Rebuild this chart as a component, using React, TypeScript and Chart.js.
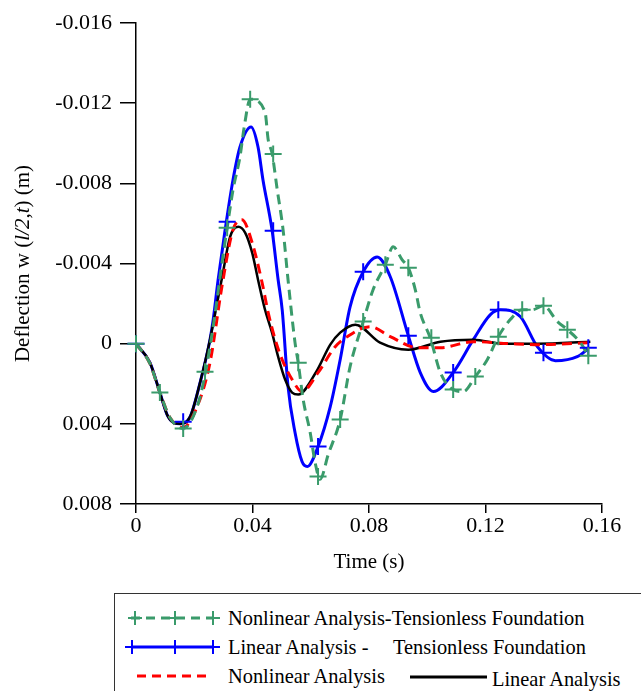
import React, { useEffect, useRef } from 'react';
import { Chart, registerables } from 'chart.js';

Chart.register(...registerables);

const FONT = '"Liberation Serif", "Times New Roman", Times, serif';

// X axis / Y axis tick values
const xTicks = [0, 0.04, 0.08, 0.12, 0.16];
const yTicks = [-0.016, -0.012, -0.008, -0.004, 0, 0.004, 0.008];

// Linear Analysis (black)
const timeLinear = [0, 0.0048, 0.0082, 0.011, 0.0151, 0.0186, 0.022, 0.0254, 0.0296, 0.0323, 0.0351, 0.0375, 0.0399, 0.0419, 0.0443, 0.0467, 0.0488, 0.0512, 0.0536, 0.0557, 0.0619, 0.0667, 0.0701, 0.0753, 0.0838, 0.0935, 0.1045, 0.1158, 0.1261, 0.1378, 0.156];
const linear = [0, 0.00095, 0.00244, 0.00364, 0.00399, 0.00364, 0.00194, -0.0002, -0.00334, -0.00533, -0.00583, -0.00553, -0.00453, -0.00319, -0.00169, -0.00055, 0.00065, 0.00179, 0.00244, 0.00254, 0.0014, 0.00005, -0.00055, -0.00095, -0.00005, 0.0003, -0.0001, -0.0002, 0, 0, -0.0001];

// Nonlinear Analysis (red dashed)
const timeNonlinear = [0, 0.0048, 0.0082, 0.0117, 0.0162, 0.021, 0.0254, 0.0296, 0.0333, 0.0364, 0.0399, 0.0433, 0.0454, 0.0478, 0.0502, 0.0536, 0.057, 0.0625, 0.0684, 0.0725, 0.0804, 0.0873, 0.0966, 0.1045, 0.1158, 0.1285, 0.1388, 0.156];
const nonlinear = [0, 0.001, 0.00244, 0.0037, 0.00418, 0.00314, 0.00095, -0.00294, -0.00568, -0.00618, -0.00503, -0.00304, -0.00154, -0.0002, 0.0008, 0.00179, 0.00239, 0.00145, 0.00015, -0.00035, -0.00085, -0.00035, 0.0002, 0.0002, -0.0001, 0, 0.00005, -0.00005];

// Linear Analysis - Tensionless Foundation (blue)
const timeLinearTL = [0, 0.0048, 0.0082, 0.011, 0.0151, 0.0186, 0.022, 0.0254, 0.0265, 0.0282, 0.0306, 0.0333, 0.0357, 0.0395, 0.0419, 0.0436, 0.0467, 0.0488, 0.0502, 0.0522, 0.0546, 0.057, 0.0588, 0.0625, 0.0667, 0.0701, 0.0735, 0.078, 0.0828, 0.0873, 0.0935, 0.0976, 0.1021, 0.1089, 0.1158, 0.1216, 0.1251, 0.132, 0.1378, 0.144, 0.1515, 0.1553];
const linearTL = [0, 0.00095, 0.00244, 0.00364, 0.00399, 0.00364, 0.00194, -0.0002, -0.0012, -0.00319, -0.00568, -0.00817, -0.00981, -0.01081, -0.00981, -0.00817, -0.00568, -0.00319, -0.00169, 0.00214, 0.00443, 0.00588, 0.00613, 0.00513, 0.00314, 0.0008, -0.00184, -0.00359, -0.00433, -0.00334, -0.0004, 0.00144, 0.00239, 0.00144, -0.0002, -0.00144, -0.00169, -0.00134, 0.00015, 0.00085, 0.00065, 0.00025];
const markerTimeLinearTL = [0, 0.0162, 0.0313, 0.0471, 0.0625, 0.078, 0.0935, 0.1089, 0.1244, 0.1399, 0.1553];
const markerLinearTL = [0, 0.0039, -0.00608, -0.00563, 0.00513, -0.00359, -0.0004, 0.00144, -0.00169, 0.00045, 0.0002];

// Nonlinear Analysis - Tensionless Foundation (green dashed)
const timeNonlinearTL = [0, 0.0048, 0.0082, 0.0117, 0.0162, 0.021, 0.0237, 0.0271, 0.0292, 0.0313, 0.0333, 0.0357, 0.0371, 0.0392, 0.0443, 0.0454, 0.0467, 0.0485, 0.0505, 0.0522, 0.0546, 0.0557, 0.0574, 0.0598, 0.0615, 0.0632, 0.066, 0.0701, 0.0735, 0.078, 0.0814, 0.0856, 0.0883, 0.0914, 0.0935, 0.0959, 0.0976, 0.101, 0.1045, 0.1089, 0.1124, 0.1165, 0.1206, 0.1244, 0.1285, 0.1326, 0.1361, 0.1399, 0.1447, 0.1481, 0.1526, 0.1553];
const nonlinearTL = [0, 0.001, 0.00244, 0.0037, 0.00423, 0.00314, 0.00154, -0.00144, -0.00369, -0.00578, -0.00767, -0.00932, -0.01076, -0.0122, -0.01156, -0.01016, -0.00951, -0.00767, -0.00568, -0.00319, -0.00005, 0.00095, 0.00279, 0.00443, 0.00593, 0.00677, 0.00553, 0.00379, 0.00115, -0.0011, -0.00269, -0.00394, -0.00483, -0.00418, -0.00379, -0.00269, -0.00154, -0.0003, 0.00144, 0.00229, 0.00239, 0.00164, 0.0008, -0.00035, -0.0012, -0.00169, -0.00169, -0.00189, -0.0011, -0.0007, -0.00005, 0.0006];
const markerTimeNonlinearTL = [0, 0.0082, 0.0162, 0.0237, 0.0313, 0.0392, 0.0471, 0.0557, 0.0625, 0.0701, 0.078, 0.0856, 0.0935, 0.1014, 0.1089, 0.1165, 0.1244, 0.1326, 0.1399, 0.1481, 0.1553];
const markerNonlinearTL = [0, 0.00244, 0.00423, 0.0014, -0.00578, -0.0122, -0.00946, 0.00095, 0.00663, 0.00379, -0.0011, -0.00394, -0.00379, -0.0003, 0.00229, 0.00164, -0.00035, -0.00169, -0.00189, -0.0007, 0.0006];

const GREEN = '#3A9B6B';
const BLUE = '#0000FF';
const RED = '#FF0000';
const BLACK = '#000000';

const pts = (xs: number[], ys: number[]) => xs.map((x, i) => ({ x, y: ys[i] }));

const yTitlePlugin = {
  id: 'yTitle',
  afterDraw(chart: any) {
    const { ctx, chartArea } = chart;
    const size = 21;
    const parts: [string, boolean][] = [
      ['Deflection w (', false],
      ['l/2,t', true],
      [') (m)', false],
    ];
    ctx.save();
    const fontFor = (it: boolean) => `${it ? 'italic ' : ''}${size}px ${FONT}`;
    const widths = parts.map(([t, it]) => {
      ctx.font = fontFor(it);
      return ctx.measureText(t).width;
    });
    const total = widths.reduce((a, b) => a + b, 0);
    ctx.translate(23, (chartArea.top + chartArea.bottom) / 2);
    ctx.rotate(-Math.PI / 2);
    ctx.textBaseline = 'middle';
    ctx.textAlign = 'left';
    ctx.fillStyle = '#000';
    let x = -total / 2;
    parts.forEach(([t, it], i) => {
      ctx.font = fontFor(it);
      ctx.fillText(t, x, 0);
      x += widths[i];
    });
    ctx.restore();
  },
};

export default function App() {
  const ref = useRef<HTMLCanvasElement>(null);

  useEffect(() => {
    const lineBase = {
      pointRadius: 0,
      fill: false,
      cubicInterpolationMode: 'monotone' as const,
      borderWidth: 3,
    };
    const markerBase = {
      showLine: false,
      pointStyle: 'cross' as const,
      pointRadius: 8.5,
      pointBorderWidth: 2,
      clip: false as any,
    };
    const chart = new Chart(ref.current as HTMLCanvasElement, {
      type: 'line',
      data: {
        datasets: [
          { ...markerBase, label: 'NLT markers', data: pts(markerTimeNonlinearTL, markerNonlinearTL), borderColor: GREEN, pointBorderColor: GREEN, backgroundColor: GREEN, order: 0 },
          { ...markerBase, label: 'LT markers', data: pts(markerTimeLinearTL, markerLinearTL), borderColor: BLUE, pointBorderColor: BLUE, backgroundColor: BLUE, order: 1 },
          { ...lineBase, label: 'Nonlinear Analysis-Tensionless Foundation', data: pts(timeNonlinearTL, nonlinearTL), borderColor: GREEN, borderDash: [10, 6], order: 2 },
          { ...lineBase, label: 'Nonlinear Analysis', data: pts(timeNonlinear, nonlinear), borderColor: RED, borderDash: [10, 6], order: 3 },
          { ...lineBase, label: 'Linear Analysis', data: pts(timeLinear, linear), borderColor: BLACK, borderWidth: 2.5, order: 4 },
          { ...lineBase, label: 'Linear Analysis - Tensionless Foundation', data: pts(timeLinearTL, linearTL), borderColor: BLUE, order: 5 },
        ],
      },
      options: {
        responsive: false,
        devicePixelRatio: 1,
        animation: false,
        events: [],
        layout: { padding: { left: 0, right: 39, top: 23, bottom: 0 } },
        plugins: { legend: { display: false }, tooltip: { enabled: false } },
        scales: {
          x: {
            type: 'linear',
            min: 0,
            max: 0.16,
            afterBuildTicks: (axis: any) => {
              axis.ticks = xTicks.map((v) => ({ value: v }));
            },
            afterFit: (scale: any) => {
              scale.height = 86;
            },
            ticks: {
              autoSkip: false,
              maxRotation: 0,
              padding: 0,
              color: '#000',
              font: { family: FONT, size: 22 },
              callback: (v: any) => String(v),
            },
            grid: { display: true, drawOnChartArea: false, drawTicks: true, tickLength: 9, color: '#000', lineWidth: 1.5 },
            border: { display: true, color: '#000', width: 1.5 },
            title: {
              display: true,
              text: 'Time (s)',
              color: '#000',
              font: { family: FONT, size: 21, lineHeight: 1.2 },
              padding: { top: 0, bottom: 15 },
            },
          },
          y: {
            type: 'linear',
            min: -0.016,
            max: 0.008,
            reverse: true,
            afterBuildTicks: (axis: any) => {
              axis.ticks = yTicks.map((v) => ({ value: v }));
            },
            afterFit: (scale: any) => {
              scale.width = 136;
            },
            ticks: {
              autoSkip: false,
              padding: 8,
              color: '#000',
              font: { family: FONT, size: 22 },
              callback: (v: any) => String(v),
            },
            grid: { display: true, drawOnChartArea: false, drawTicks: true, tickLength: 16, color: '#000', lineWidth: 1.5 },
            border: { display: true, color: '#000', width: 1.5 },
            title: { display: false },
          },
        },
      },
      plugins: [yTitlePlugin],
    } as any);
    return () => chart.destroy();
  }, []);

  const textStyle = (left: number, top: number): React.CSSProperties => ({
    position: 'absolute',
    left,
    top,
    fontSize: 20.4,
    lineHeight: '20px',
    whiteSpace: 'nowrap',
    color: '#000',
    fontFamily: FONT,
  });

  const cross = (cx: number, cy: number, color: string, r = 7) => (
    <g stroke={color} strokeWidth={2}>
      <line x1={cx - r} y1={cy} x2={cx + r} y2={cy} />
      <line x1={cx} y1={cy - r} x2={cx} y2={cy + r} />
    </g>
  );

  return (
    <div style={{ position: 'absolute', left: 0, top: 0, width: 641, height: 691, overflow: 'hidden', background: '#fff', fontFamily: FONT }}>
      <canvas ref={ref} width={641} height={590} style={{ display: 'block', width: 641, height: 590 }} />
      <div style={{ position: 'absolute', left: 114, top: 593, width: 560, height: 120, border: '1.5px solid #333', boxSizing: 'border-box' }} />
      <svg style={{ position: 'absolute', left: 115, top: 594 }} width={526} height={97}>
        <line x1={16} y1={24} x2={99} y2={24} stroke={GREEN} strokeWidth={3} strokeDasharray="9 6" />
        {cross(20, 24, GREEN)}
        {cross(60, 24, GREEN)}
        {cross(98, 24, GREEN)}
        <line x1={16} y1={53} x2={99} y2={53} stroke={BLUE} strokeWidth={3} />
        {cross(17, 53, BLUE)}
        {cross(60, 53, BLUE)}
        {cross(98, 53, BLUE)}
        <line x1={22} y1={82} x2={96} y2={82} stroke={RED} strokeWidth={3} strokeDasharray="9 6" />
        <line x1={295} y1={83} x2={372} y2={83} stroke={BLACK} strokeWidth={3} />
      </svg>
      <span style={textStyle(228, 608)}>Nonlinear Analysis-Tensionless Foundation</span>
      <span style={textStyle(228, 637)}>Linear Analysis -</span>
      <span style={textStyle(393, 637)}>Tensionless Foundation</span>
      <span style={textStyle(228, 666)}>Nonlinear Analysis</span>
      <span style={textStyle(492, 669)}>Linear Analysis</span>
    </div>
  );
}
